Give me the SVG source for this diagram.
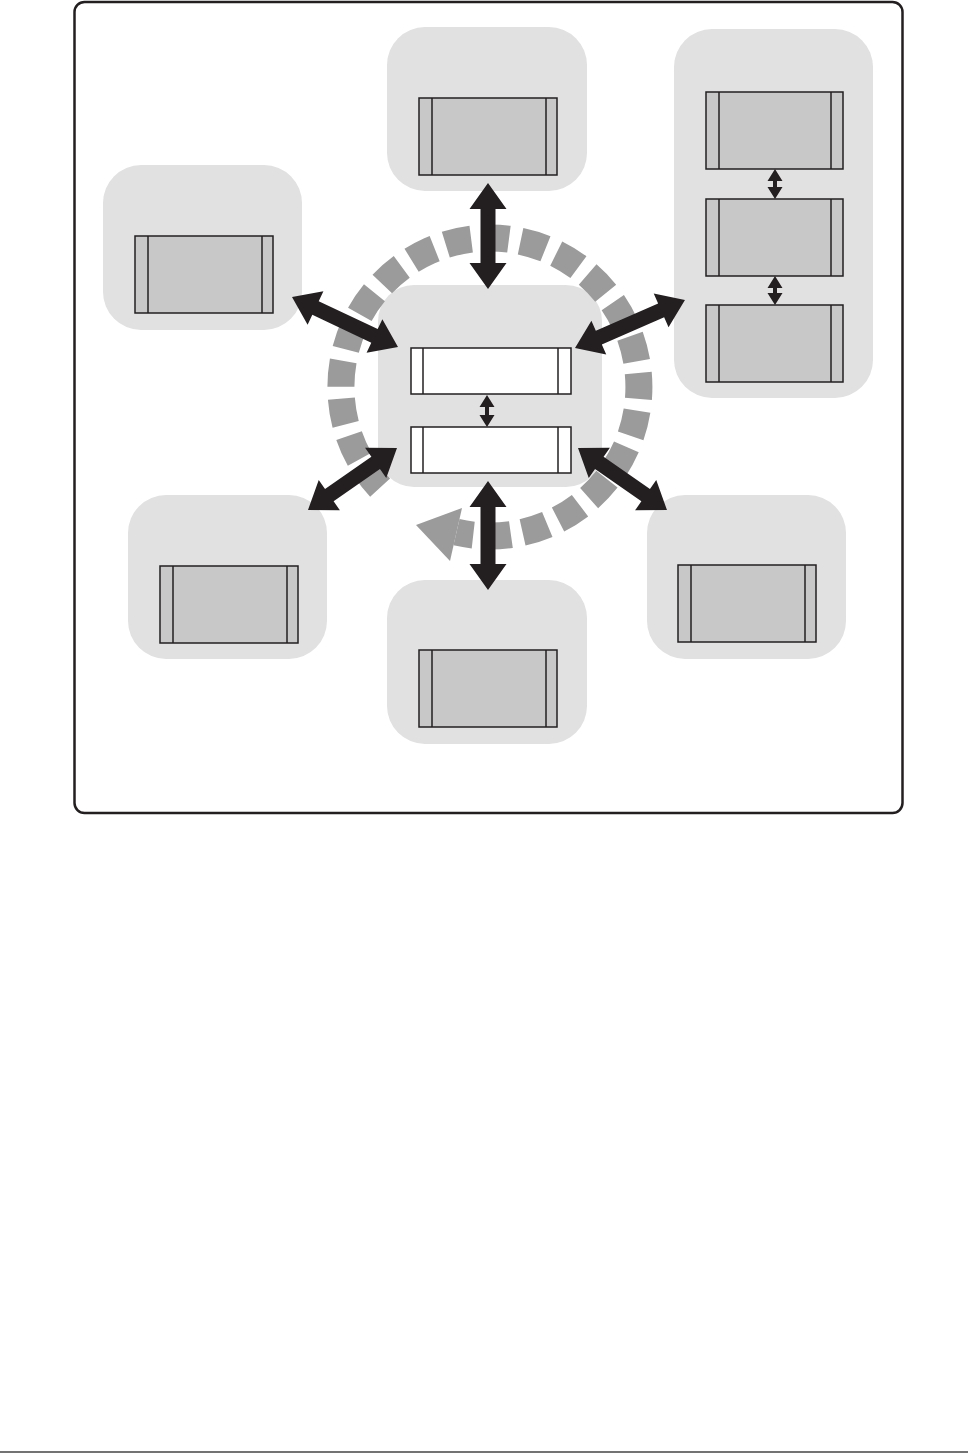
<svg xmlns="http://www.w3.org/2000/svg" width="970" height="1453" viewBox="0 0 970 1453">
<style>
.grp{fill:#e1e1e1}
.box{fill:#c8c8c8;stroke:#231f20;stroke-width:1.5}
.wbox{fill:#ffffff;stroke:#231f20;stroke-width:1.5}
.div{stroke:#231f20;stroke-width:1.5}
.arr{fill:#231f20}
.cyc{fill:none;stroke:#9b9b9b;stroke-width:27;stroke-dasharray:26 11.8;stroke-dashoffset:9}
</style>
<rect x="0" y="0" width="970" height="1453" fill="#ffffff"/>
<rect id="frame" x="74.5" y="2" width="828" height="811" rx="10" fill="none" stroke="#231f20" stroke-width="2.5"/>
<line x1="0" y1="1452" x2="968" y2="1452" stroke="#444" stroke-width="1.3"/>

<g id="node-top">
<rect class="grp" x="387" y="27" width="200" height="164" rx="38"/>
<rect class="box" x="419" y="98" width="138" height="77"/>
<line class="div" x1="432" y1="98" x2="432" y2="175"/><line class="div" x1="546" y1="98" x2="546" y2="175"/>
</g>

<g id="node-topright">
<rect class="grp" x="674" y="29" width="199" height="369" rx="38"/>
<rect class="box" x="706" y="92" width="137" height="77"/>
<line class="div" x1="719" y1="92" x2="719" y2="169"/><line class="div" x1="831" y1="92" x2="831" y2="169"/>
<rect class="box" x="706" y="199" width="137" height="77"/>
<line class="div" x1="719" y1="199" x2="719" y2="276"/><line class="div" x1="831" y1="199" x2="831" y2="276"/>
<rect class="box" x="706" y="305" width="137" height="77"/>
<line class="div" x1="719" y1="305" x2="719" y2="382"/><line class="div" x1="831" y1="305" x2="831" y2="382"/>
</g>

<g id="node-upperleft">
<rect class="grp" x="103" y="165" width="199" height="165" rx="38"/>
<rect class="box" x="135" y="236" width="138" height="77"/>
<line class="div" x1="148" y1="236" x2="148" y2="313"/><line class="div" x1="262" y1="236" x2="262" y2="313"/>
</g>

<g id="node-lowerleft">
<rect class="grp" x="128" y="495" width="199" height="164" rx="38"/>
<rect class="box" x="160" y="566" width="138" height="77"/>
<line class="div" x1="173" y1="566" x2="173" y2="643"/><line class="div" x1="287" y1="566" x2="287" y2="643"/>
</g>

<g id="node-bottom">
<rect class="grp" x="387" y="580" width="200" height="164" rx="38"/>
<rect class="box" x="419" y="650" width="138" height="77"/>
<line class="div" x1="432" y1="650" x2="432" y2="727"/><line class="div" x1="546" y1="650" x2="546" y2="727"/>
</g>

<g id="node-lowerright">
<rect class="grp" x="647" y="495" width="199" height="164" rx="38"/>
<rect class="box" x="678" y="565" width="138" height="77"/>
<line class="div" x1="691" y1="565" x2="691" y2="642"/><line class="div" x1="805" y1="565" x2="805" y2="642"/>
</g>

<g id="node-center">
<rect class="grp" x="378" y="285" width="224" height="202" rx="36"/>
<rect class="wbox" x="411" y="348" width="160" height="46"/>
<line class="div" x1="423" y1="348" x2="423" y2="394"/><line class="div" x1="558" y1="348" x2="558" y2="394"/>
<rect class="wbox" x="411" y="427" width="160" height="46"/>
<line class="div" x1="423" y1="427" x2="423" y2="473"/><line class="div" x1="558" y1="427" x2="558" y2="473"/>
</g>

<g id="connectors">
<g id="cycle">
<path class="cyc" d="M456.5,532.2 A149,149 0 1 0 380.1,487.7"/>
<polygon points="416,525 462,508 450,561" fill="#9b9b9b"/>
</g>
<polygon class="arr" transform="translate(488,183) rotate(90)" points="0,0 26,-18.5 26,-7.5 80,-7.5 80,-18.5 106,0 80,18.5 80,7.5 26,7.5 26,18.5"/>
<polygon class="arr" transform="translate(488,481) rotate(90)" points="0,0 26,-18.5 26,-7.5 83,-7.5 83,-18.5 109,0 83,18.5 83,7.5 26,7.5 26,18.5"/>
<polygon class="arr" transform="translate(292,297) rotate(25.25)" points="0,0 26,-18.5 26,-7.5 91.2,-7.5 91.2,-18.5 117.2,0 91.2,18.5 91.2,7.5 26,7.5 26,18.5"/>
<polygon class="arr" transform="translate(575,348) rotate(-23.6)" points="0,0 26,-18.5 26,-7.5 94,-7.5 94,-18.5 120,0 94,18.5 94,7.5 26,7.5 26,18.5"/>
<polygon class="arr" transform="translate(308,510) rotate(-34.9)" points="0,0 26,-18.5 26,-7.5 82.5,-7.5 82.5,-18.5 108.5,0 82.5,18.5 82.5,7.5 26,7.5 26,18.5"/>
<polygon class="arr" transform="translate(578,448) rotate(34.9)" points="0,0 26,-18.5 26,-7.5 82.5,-7.5 82.5,-18.5 108.5,0 82.5,18.5 82.5,7.5 26,7.5 26,18.5"/>
<polygon class="arr" points="487,395 494.5,407 489,407 489,415 494.5,415 487,427 479.5,415 485,415 485,407 479.5,407"/>
<polygon class="arr" points="775,169 782.5,181 777,181 777,187 782.5,187 775,199 767.5,187 773,187 773,181 767.5,181"/>
<polygon class="arr" points="775,276 782.5,288 777,288 777,293 782.5,293 775,305 767.5,293 773,293 773,288 767.5,288"/>
</g>
</svg>
